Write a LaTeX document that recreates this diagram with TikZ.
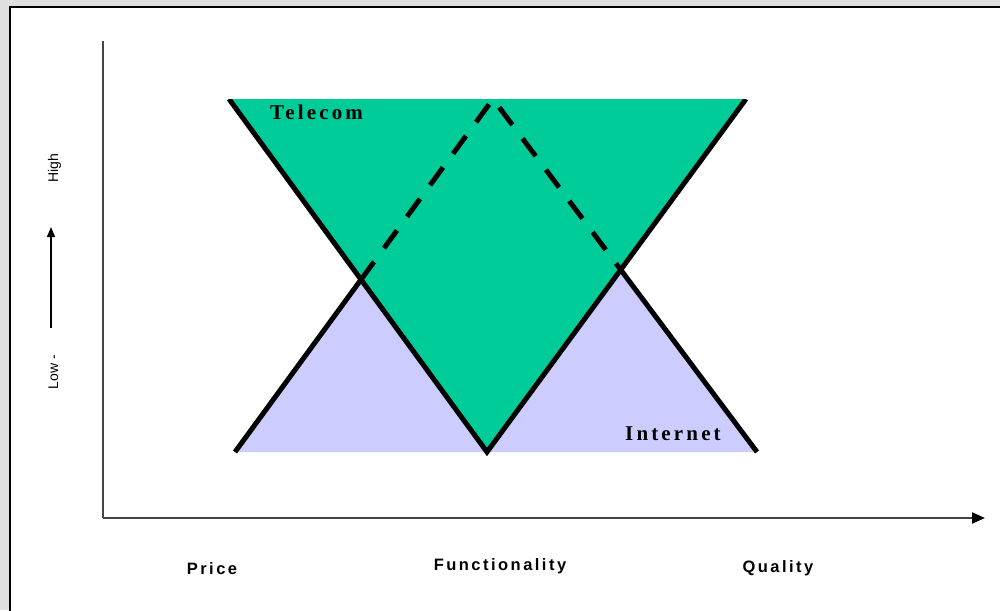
\documentclass[tikz,border=0pt]{standalone}
\usepackage{fontspec}
\setmainfont{Liberation Serif}
\newfontfamily\arialfont{Liberation Sans}
\newfontfamily\arialspaced[LetterSpace=15]{Liberation Sans}
\newfontfamily\timesspaced[LetterSpace=15]{Liberation Serif}
\usetikzlibrary{arrows.meta}
\definecolor{telecomgreen}{HTML}{00CC99}
\definecolor{internetlav}{HTML}{CCCCFF}
\definecolor{bggray}{HTML}{DFDFDF}
\definecolor{axisgray}{HTML}{454545}
\tikzset{
  edge/.style={line width=5pt, black, line cap=butt},
  dashededge/.style={edge, dash pattern=on 22pt off 17pt},
  axis/.style={line width=2pt, axisgray},
  shapelabel/.style={inner sep=0pt, anchor=base west, font=\timesspaced\bfseries\fontsize{21}{24}\selectfont},
  axislabel/.style={inner sep=0pt, anchor=base, font=\arialspaced\bfseries\fontsize{16.5}{19}\selectfont},
  ylabel/.style={inner sep=0pt, anchor=base, rotate=90, font=\arialfont\fontsize{14}{16}\selectfont},
}
\begin{document}
\begin{tikzpicture}[x=1pt,y=-1pt]
\useasboundingbox (0,0) rectangle (1000,610);
\clip (0,0) rectangle (1000,610);
\fill[bggray] (0,0) rectangle (1000,610);
\draw[line width=2.5pt, fill=white] (10,7) rectangle (1030,640);

% axes
\coordinate (ytop) at (103,41);
\coordinate (origin) at (103,518);
\coordinate (xend) at (985,518);
\draw[axis] (ytop) -- (origin);
\draw[axis, -{Triangle[length=13pt,width=11pt,color=black]}] (origin) -- (xend);

% shape corners
\coordinate (T1) at (229,99);
\coordinate (T2) at (746,99);
\coordinate (TB) at (487,452);
\coordinate (I1) at (235,452);
\coordinate (IA) at (493,99);
\coordinate (I2) at (757,452);
\coordinate (X1) at (intersection of T1--TB and I1--IA);
\coordinate (X2) at (intersection of T2--TB and I2--IA);

\fill[internetlav] (I1) -- (IA) -- (I2) -- cycle;
\fill[telecomgreen] (T1) -- (T2) -- (TB) -- cycle;

\begin{scope}
\clip (T1) ++(-20,0) rectangle (1000,600);
\draw[edge, line join=miter] (T1) -- (TB) -- (T2);
\draw[edge] (I1) -- (X1);
\draw[edge] (I2) -- (X2);
\draw[dashededge] (X1) -- (IA) -- (X2);
\end{scope}

\node[shapelabel] (telecom) at (270,119.5) {Telecom};
\node[shapelabel] (internet) at (625,440.7) {Internet};

% x labels
\node[axislabel] (price) at (212,574) {Price};
\node[axislabel] (func) at (500,570) {Functionality};
\node[axislabel] (qual) at (778,572) {Quality};

% y label
\node[ylabel] (low) at (58,372) {Low -};
\node[ylabel] (high) at (58,168) {High};
\coordinate (arrfrom) at (51,328);
\coordinate (arrto) at (51,227);
\draw[line width=1.3pt, black, -{Triangle[length=10pt,width=8pt]}] (arrfrom) -- (arrto);
\end{tikzpicture}
\end{document}
